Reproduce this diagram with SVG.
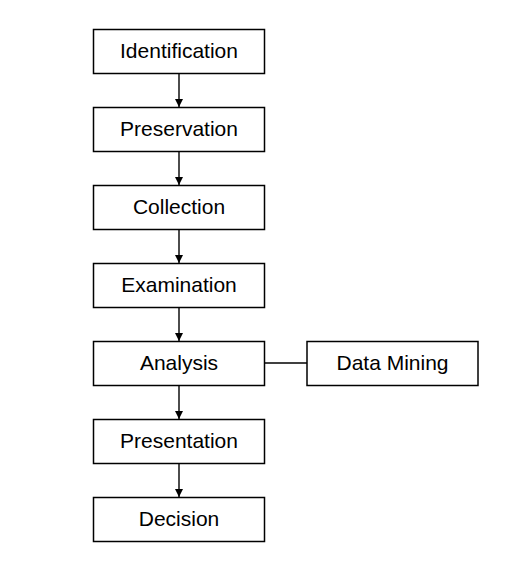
<svg xmlns="http://www.w3.org/2000/svg" width="513" height="570" viewBox="0 0 513 570">
<style>
.box{fill:#fff;stroke:#000;stroke-width:1.5}
.lbl{font-family:"Liberation Sans",Arial,sans-serif;font-size:21px;fill:#000;text-anchor:middle;dominant-baseline:central}
.con{stroke:#000;stroke-width:1.4;fill:none}
</style>
<defs>
<marker id="arr" viewBox="0 0 10 10" refX="10" refY="5" markerWidth="8" markerHeight="8" markerUnits="userSpaceOnUse" orient="auto">
<path d="M0,0 L10,5 L0,10 z" fill="#000"/>
</marker>
</defs>
<rect width="513" height="570" fill="#fff"/>
<g id="connectors">
<line class="con" x1="179" y1="73" x2="179" y2="107" marker-end="url(#arr)"/>
<line class="con" x1="179" y1="151" x2="179" y2="185" marker-end="url(#arr)"/>
<line class="con" x1="179" y1="229" x2="179" y2="263" marker-end="url(#arr)"/>
<line class="con" x1="179" y1="307" x2="179" y2="341" marker-end="url(#arr)"/>
<line class="con" x1="179" y1="385" x2="179" y2="419" marker-end="url(#arr)"/>
<line class="con" x1="179" y1="463" x2="179" y2="497" marker-end="url(#arr)"/>
<line class="con" x1="265" y1="363" x2="307" y2="363"/>
</g>
<g id="identification"><rect class="box" x="93.5" y="29.5" width="171" height="44"/><text class="lbl" x="179" y="50">Identification</text></g>
<g id="preservation"><rect class="box" x="93.5" y="107.5" width="171" height="44"/><text class="lbl" x="179" y="128">Preservation</text></g>
<g id="collection"><rect class="box" x="93.5" y="185.5" width="171" height="44"/><text class="lbl" x="179" y="206">Collection</text></g>
<g id="examination"><rect class="box" x="93.5" y="263.5" width="171" height="44"/><text class="lbl" x="179" y="284">Examination</text></g>
<g id="analysis"><rect class="box" x="93.5" y="341.5" width="171" height="44"/><text class="lbl" x="179" y="362">Analysis</text></g>
<g id="datamining"><rect class="box" x="307" y="341.5" width="171" height="44"/><text class="lbl" x="392.5" y="362">Data Mining</text></g>
<g id="presentation"><rect class="box" x="93.5" y="419.5" width="171" height="44"/><text class="lbl" x="179" y="440">Presentation</text></g>
<g id="decision"><rect class="box" x="93.5" y="497.5" width="171" height="44"/><text class="lbl" x="179" y="518">Decision</text></g>
</svg>
